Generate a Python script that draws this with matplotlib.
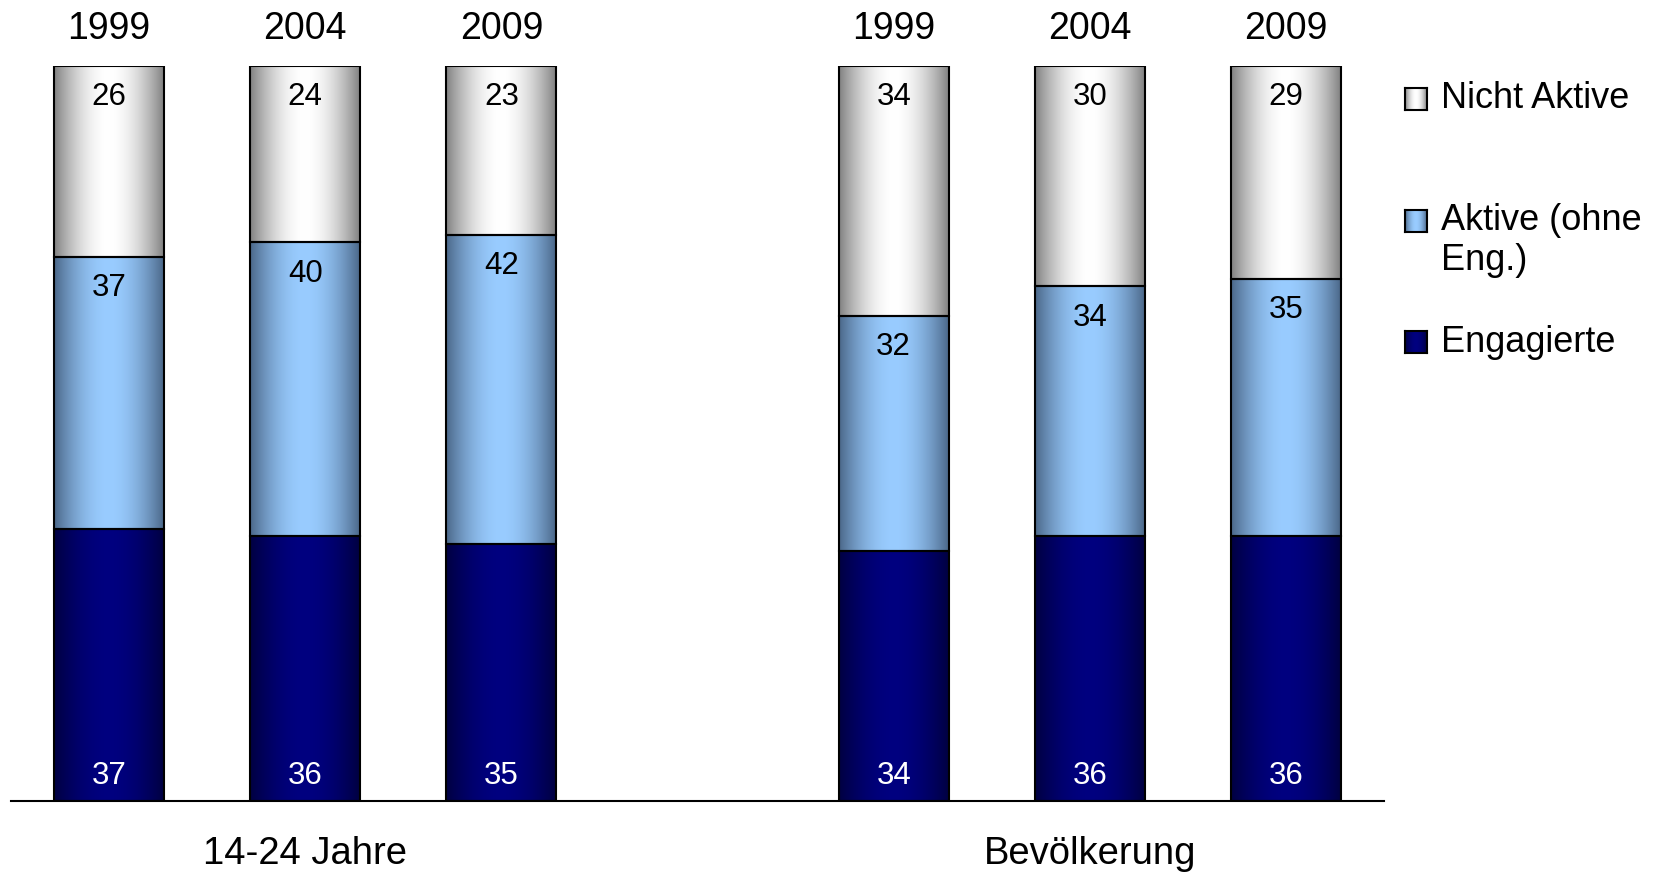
import numpy as np
import matplotlib
matplotlib.use('Agg')
import matplotlib.pyplot as plt

plt.rcParams['font.family'] = ['Liberation Sans', 'DejaVu Sans']

# data
years = ['1999', '2004', '2009', '1999', '2004', '2009']
groups = ['14-24 Jahre', 'Bevölkerung']
engagierte = [37, 36, 35, 34, 36, 36]
aktive = [37, 40, 42, 32, 34, 35]
nicht_aktive = [26, 24, 23, 34, 30, 29]
series_labels = ['Engagierte', 'Aktive (ohne\nEng.)', 'Nicht Aktive']

x = np.array([0, 1, 2, 4, 5, 6])
group_x = [1, 5]

# gradient colours (edge, centre) per series
grad = [((0.0, 0.0, 0.25), (0.0, 0.0, 0.5)),
        ((0.29, 0.40, 0.53), (0.60, 0.80, 1.0)),
        ((0.50, 0.50, 0.50), (1.0, 1.0, 1.0))]
text_cols = ['white', 'black', 'black']


def grad_img(edge, centre, n=200):
    t = np.linspace(0, 1, n)
    f = np.sin(np.pi * t) ** 0.9
    edge = np.array(edge)
    centre = np.array(centre)
    img = edge[None, :] + (centre - edge)[None, :] * f[:, None]
    return img[None, :, :]


vals = np.array([engagierte, aktive, nicht_aktive], dtype=float)
pct = vals / vals.sum(axis=0) * 100

fig = plt.figure(figsize=(16.61, 8.74), dpi=100)
ax = fig.add_axes([0.0066, 0.0835, 0.8267, 0.841])

width = 0.56
bottom = np.zeros(len(x))
for i in range(3):
    bars = ax.bar(x, pct[i], width, bottom=bottom, facecolor='none',
                  edgecolor='black', lw=1.5, zorder=3)
    img = grad_img(*grad[i])
    for b in bars:
        x0, y0 = b.get_x(), b.get_y()
        ax.imshow(img, extent=(x0, x0 + b.get_width(), y0, y0 + b.get_height()),
                  aspect='auto', interpolation='bilinear', zorder=1)
    for xi, b0, h, v in zip(x, bottom, pct[i], vals[i]):
        if i == 0:
            ax.annotate(f'{int(v)}', (xi, b0), xytext=(0, 18), textcoords='offset points',
                        ha='center', va='center', fontsize=22.5, color=text_cols[i])
        else:
            ax.annotate(f'{int(v)}', (xi, b0 + h), xytext=(0, -22.5), textcoords='offset points',
                        ha='center', va='center', fontsize=22.5, color=text_cols[i])
    bottom = bottom + pct[i]

for xi, yr in zip(x, years):
    ax.annotate(yr, (xi, 100), xytext=(0, 26.3), textcoords='offset points',
                ha='center', va='center', fontsize=27)

for gx, g in zip(group_x, groups):
    ax.annotate(g, (gx, 0), xytext=(0, -38), textcoords='offset points',
                ha='center', va='center', fontsize=27.5)

ax.set_xlim(-0.5, 6.5)
ax.set_ylim(0, 100)
for s in ['top', 'left', 'right']:
    ax.spines[s].set_visible(False)
ax.spines['bottom'].set_linewidth(1.5)
ax.set_xticks([])
ax.set_yticks([])
ax.patch.set_alpha(0)

# legend drawn by hand (gradient markers)
leg_y = [342, 220.5, 99]
for i in range(3):
    yc = 1 - leg_y[i] / 874
    h = 22 / 874
    mk = fig.add_axes([1405 / 1661, yc - h / 2, 22 / 1661, h])
    mk.imshow(grad_img(*grad[i]), aspect='auto', interpolation='bilinear')
    mk.set_xticks([])
    mk.set_yticks([])
    for s in mk.spines.values():
        s.set_linewidth(1.5)
    if '\n' in series_labels[i]:
        fig.text(1441 / 1661, yc + 18 / 874, series_labels[i], ha='left', va='top',
                 fontsize=26, linespacing=1.2)
    else:
        fig.text(1441 / 1661, yc, series_labels[i], ha='left', va='center', fontsize=26)

fig.savefig('out.png', dpi=100)
